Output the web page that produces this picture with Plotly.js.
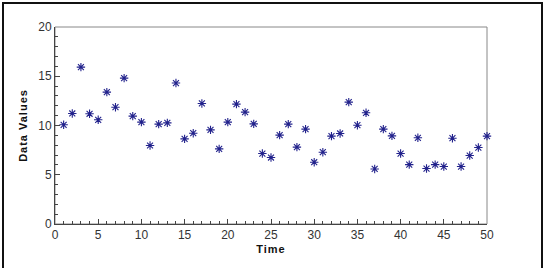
<!DOCTYPE html>
<html>
<head>
<meta charset="utf-8">
<script src="https://cdn.plot.ly/plotly-3.0.1.min.js"></script>
<style>
  html, body { margin: 0; padding: 0; background: #fff; }
  #wrap { position: relative; width: 545px; height: 268px; overflow: hidden; }
  #frame { position: absolute; left: 2px; top: 2px; width: 537px; height: 268px;
           border-left: 2px solid #111; border-right: 2px solid #111; border-top: 2px solid #111;
           pointer-events: none; z-index: 5; }
  #chart { position: absolute; left: 0; top: 0; width: 545px; height: 268px; }
  .g-xtitle text, .g-ytitle text { letter-spacing: 1px; }
</style>
</head>
<body>
<div id="wrap">
  <div id="chart"></div>
  <div id="frame"></div>
</div>
<script>
const time = [1,2,3,4,5,6,7,8,9,10,11,12,13,14,15,16,17,18,19,20,21,22,23,24,25,26,27,28,29,30,31,32,33,34,35,36,37,38,39,40,41,42,43,44,45,46,47,48,49,50];
const dataValues = [10.07,11.22,15.93,11.19,10.58,13.39,11.86,14.81,10.95,10.34,
                    7.97,10.14,10.27,14.31,8.64,9.22,12.24,9.56,7.63,10.34,
                    12.17,11.36,10.17,7.15,6.75,9.02,10.14,7.80,9.63,6.27,
                    7.29,8.92,9.19,12.37,10.03,11.29,5.59,9.63,8.95,7.15,
                    6.03,8.75,5.63,6.03,5.83,8.71,5.83,6.95,7.76,8.92];
const xTickVals = [0,5,10,15,20,25,30,35,40,45,50];
const yTickVals = [0,5,10,15,20];

const trace = {
  x: time, y: dataValues, type: 'scatter', mode: 'markers',
  marker: { symbol: 'asterisk-open', size: 7, color: '#22228c',
            line: { color: '#22228c', width: 1.1 } },
  hoverinfo: 'none', cliponaxis: false
};

const tickFont = { family: 'Liberation Sans, Arial, sans-serif', size: 12, color: '#333' };
const titleFont = { family: 'Liberation Sans, Arial, sans-serif', size: 11, color: '#111', weight: 'bold' };

const layout = {
  width: 545, height: 268,
  margin: { l: 55, r: 58, t: 27, b: 44 },
  paper_bgcolor: '#fff', plot_bgcolor: '#fff',
  showlegend: false,
  xaxis: {
    range: [0, 50], tickvals: xTickVals, ticktext: xTickVals.map(String),
    showgrid: false, zeroline: false, showline: true, linecolor: '#444', linewidth: 1,
    ticks: 'inside', ticklen: 5, tickcolor: '#444', tickfont: tickFont,
    minor: { dtick: 1, ticks: 'inside', ticklen: 3, tickcolor: '#444', showgrid: false },
    title: { text: 'Time', font: titleFont, standoff: 3 }
  },
  yaxis: {
    range: [0, 20], tickvals: yTickVals, ticktext: yTickVals.map(String),
    showgrid: false, zeroline: false, showline: true, linecolor: '#444', linewidth: 1,
    ticks: 'inside', ticklen: 5, tickcolor: '#444', tickfont: tickFont,
    minor: { dtick: 1, ticks: 'inside', ticklen: 3, tickcolor: '#444', showgrid: false },
    title: { text: 'Data Values', font: titleFont, standoff: 8 }
  },
  shapes: [{
    type: 'rect', xref: 'paper', yref: 'paper', x0: 0, x1: 1, y0: 0, y1: 1,
    line: { color: '#888', width: 1 }, layer: 'below'
  }]
};

Plotly.newPlot('chart', [trace], layout, { staticPlot: true, displayModeBar: false });
</script>
</body>
</html>
